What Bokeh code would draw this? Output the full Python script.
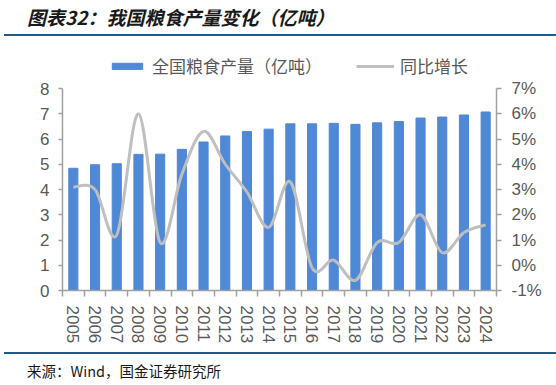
from bokeh.plotting import figure
from bokeh.layouts import column
from bokeh.models import (Range1d, LinearAxis, FixedTicker, PrintfTickFormatter,
                          Legend, LegendItem, Div)
from bokeh.embed import file_html
from bokeh.resources import INLINE

# ---- data ----
years = [2005, 2006, 2007, 2008, 2009, 2010, 2011, 2012, 2013, 2014,
         2015, 2016, 2017, 2018, 2019, 2020, 2021, 2022, 2023, 2024]
year_labels = [str(y) for y in years]
output = [4.84, 4.98, 5.02, 5.39, 5.40, 5.59, 5.88, 6.12, 6.30, 6.39,
          6.60, 6.60, 6.62, 6.58, 6.64, 6.69, 6.83, 6.87, 6.95, 7.07]
growth = [3.1, 3.0, 1.2, 6.0, 0.9, 3.6, 5.3, 4.0, 2.9, 1.5,
          3.3, -0.1, 0.2, -0.6, 0.9, 0.9, 2.0, 0.5, 1.3, 1.6]
left_ticks = [0, 1, 2, 3, 4, 5, 6, 7, 8]
right_ticks = [-1, 0, 1, 2, 3, 4, 5, 6, 7]
title_text = "图表32：我国粮食产量变化（亿吨）"
source_text = "来源：Wind，国金证券研究所"
legend_labels = ["全国粮食产量（亿吨）", "同比增长"]

BAR = "#4F88D4"
LINE = "#BFBFBF"
AXIS = "#A0A0A0"
TXT = "#595959"
RULE = "#215A86"
FONT = "Noto Sans CJK SC"

W = 556
FIG_H = 316
TOP_B = 10          # frame top (space for legend inside frame)
BOT_B = 62
frame_h = FIG_H - TOP_B - BOT_B
ext = frame_h / 202.0   # 202 px == 8 units on both axes

p = figure(width=W, height=FIG_H, output_backend="svg", toolbar_location=None,
           x_range=Range1d(2004.5, 2024.5),
           y_range=Range1d(left_ticks[0], left_ticks[0] + 8 * ext),
           min_border_left=62, min_border_right=60, min_border_top=TOP_B,
           min_border_bottom=BOT_B, margin=0)
p.outline_line_color = None
p.xgrid.visible = False
p.ygrid.visible = False

# bars
bars = p.vbar(x=years, top=output, width=0.42, fill_color=BAR, line_color=BAR)

# smoothed growth line (Catmull-Rom style bezier through the data points)
p.extra_y_ranges = {"pct": Range1d(right_ticks[0], right_ticks[0] + 8 * ext)}
n = len(years)
tang = []
for i in range(n):
    a = growth[i - 1] if i > 0 else growth[i]
    b = growth[i + 1] if i < n - 1 else growth[i]
    xa = years[i - 1] if i > 0 else years[i]
    xb = years[i + 1] if i < n - 1 else years[i]
    tang.append(((xb - xa) / 2.0, (b - a) / 2.0))
cx0 = [years[i] + tang[i][0] / 3 for i in range(n - 1)]
cy0 = [growth[i] + tang[i][1] / 3 for i in range(n - 1)]
cx1 = [years[i + 1] - tang[i + 1][0] / 3 for i in range(n - 1)]
cy1 = [growth[i + 1] - tang[i + 1][1] / 3 for i in range(n - 1)]
curve = p.bezier(x0=years[:-1], y0=growth[:-1], x1=years[1:], y1=growth[1:],
                 cx0=cx0, cy0=cy0, cx1=cx1, cy1=cy1,
                 line_color=LINE, line_width=3, y_range_name="pct")

# axes
xa_ = p.xaxis[0]
xa_.ticker = FixedTicker(ticks=years, minor_ticks=[y - 0.5 for y in years] + [years[-1] + 0.5])
xa_.major_label_overrides = {y: s for y, s in zip(years, year_labels)}
xa_.major_label_orientation = "vertical"
xa_.major_tick_out = 0
xa_.major_tick_in = 0
xa_.minor_tick_out = 6
xa_.minor_tick_in = 0
xa_.minor_tick_line_color = AXIS
xa_.minor_tick_line_width = 1.5
xa_.axis_line_color = AXIS
xa_.axis_line_width = 1.5
xa_.major_label_text_font_size = "17px"
xa_.major_label_text_color = TXT
xa_.major_label_text_font = "Liberation Sans"
xa_.major_label_standoff = 9

ya = p.yaxis[0]
ya.ticker = FixedTicker(ticks=left_ticks)
ya.bounds = (left_ticks[0], left_ticks[-1])
ya.major_tick_out = 4
ya.major_tick_in = 0
ya.minor_tick_out = 0
ya.minor_tick_in = 0
ya.major_tick_line_color = AXIS
ya.major_tick_line_width = 1.5
ya.axis_line_color = AXIS
ya.axis_line_width = 1.5
ya.major_label_text_font_size = "17px"
ya.major_label_text_color = TXT
ya.major_label_text_font = "Liberation Sans"
ya.major_label_standoff = 9

ra = LinearAxis(y_range_name="pct", ticker=FixedTicker(ticks=right_ticks),
                formatter=PrintfTickFormatter(format="%d%%"),
                bounds=(right_ticks[0], right_ticks[-1]))
ra.major_tick_out = 5
ra.major_tick_in = 0
ra.minor_tick_out = 0
ra.minor_tick_in = 0
ra.major_tick_line_color = AXIS
ra.major_tick_line_width = 1.5
ra.axis_line_color = AXIS
ra.axis_line_width = 1.5
ra.major_label_text_font_size = "17px"
ra.major_label_text_color = TXT
ra.major_label_text_font = "Liberation Sans"
ra.major_label_standoff = 10
p.add_layout(ra, "right")

# legend (inside the frame, above the bars)
legend = Legend(items=[LegendItem(label=legend_labels[0], renderers=[bars]),
                       LegendItem(label=legend_labels[1], renderers=[curve])],
                orientation="horizontal", location=(46, frame_h - 32),
                border_line_alpha=0, background_fill_alpha=0, padding=0, margin=0,
                spacing=34, glyph_width=38, glyph_height=8, label_standoff=6,
                label_text_font_size="17px", label_text_color=TXT, label_text_font=FONT)
p.add_layout(legend)

# title, rules, source as page elements
title_div = Div(text=('<div style="font-family:\'%s\';font-size:19px;font-weight:bold;'
                      'font-style:italic;color:#1A1A1A;line-height:34px;padding-left:27px;'
                      'white-space:nowrap;">%s</div>') % (FONT, title_text),
                width=W, height=34, margin=0)
rule1 = Div(text="", width=W - 4, height=2, margin=(0, 0, 0, 4),
            styles={"background-color": RULE})
rule2 = Div(text="", width=W - 4, height=2, margin=(0, 0, 0, 4),
            styles={"background-color": RULE})
source_div = Div(text=('<div style="font-family:\'%s\';font-size:14.5px;color:#1A1A1A;'
                       'line-height:28px;padding-top:3px;padding-left:27px;'
                       'white-space:nowrap;">%s</div>') % (FONT, source_text),
                 width=W, height=29, margin=0)

layout = column(title_div, rule1, p, rule2, source_div, spacing=0, margin=0)

open("out.html", "w").write(file_html(layout, INLINE))
